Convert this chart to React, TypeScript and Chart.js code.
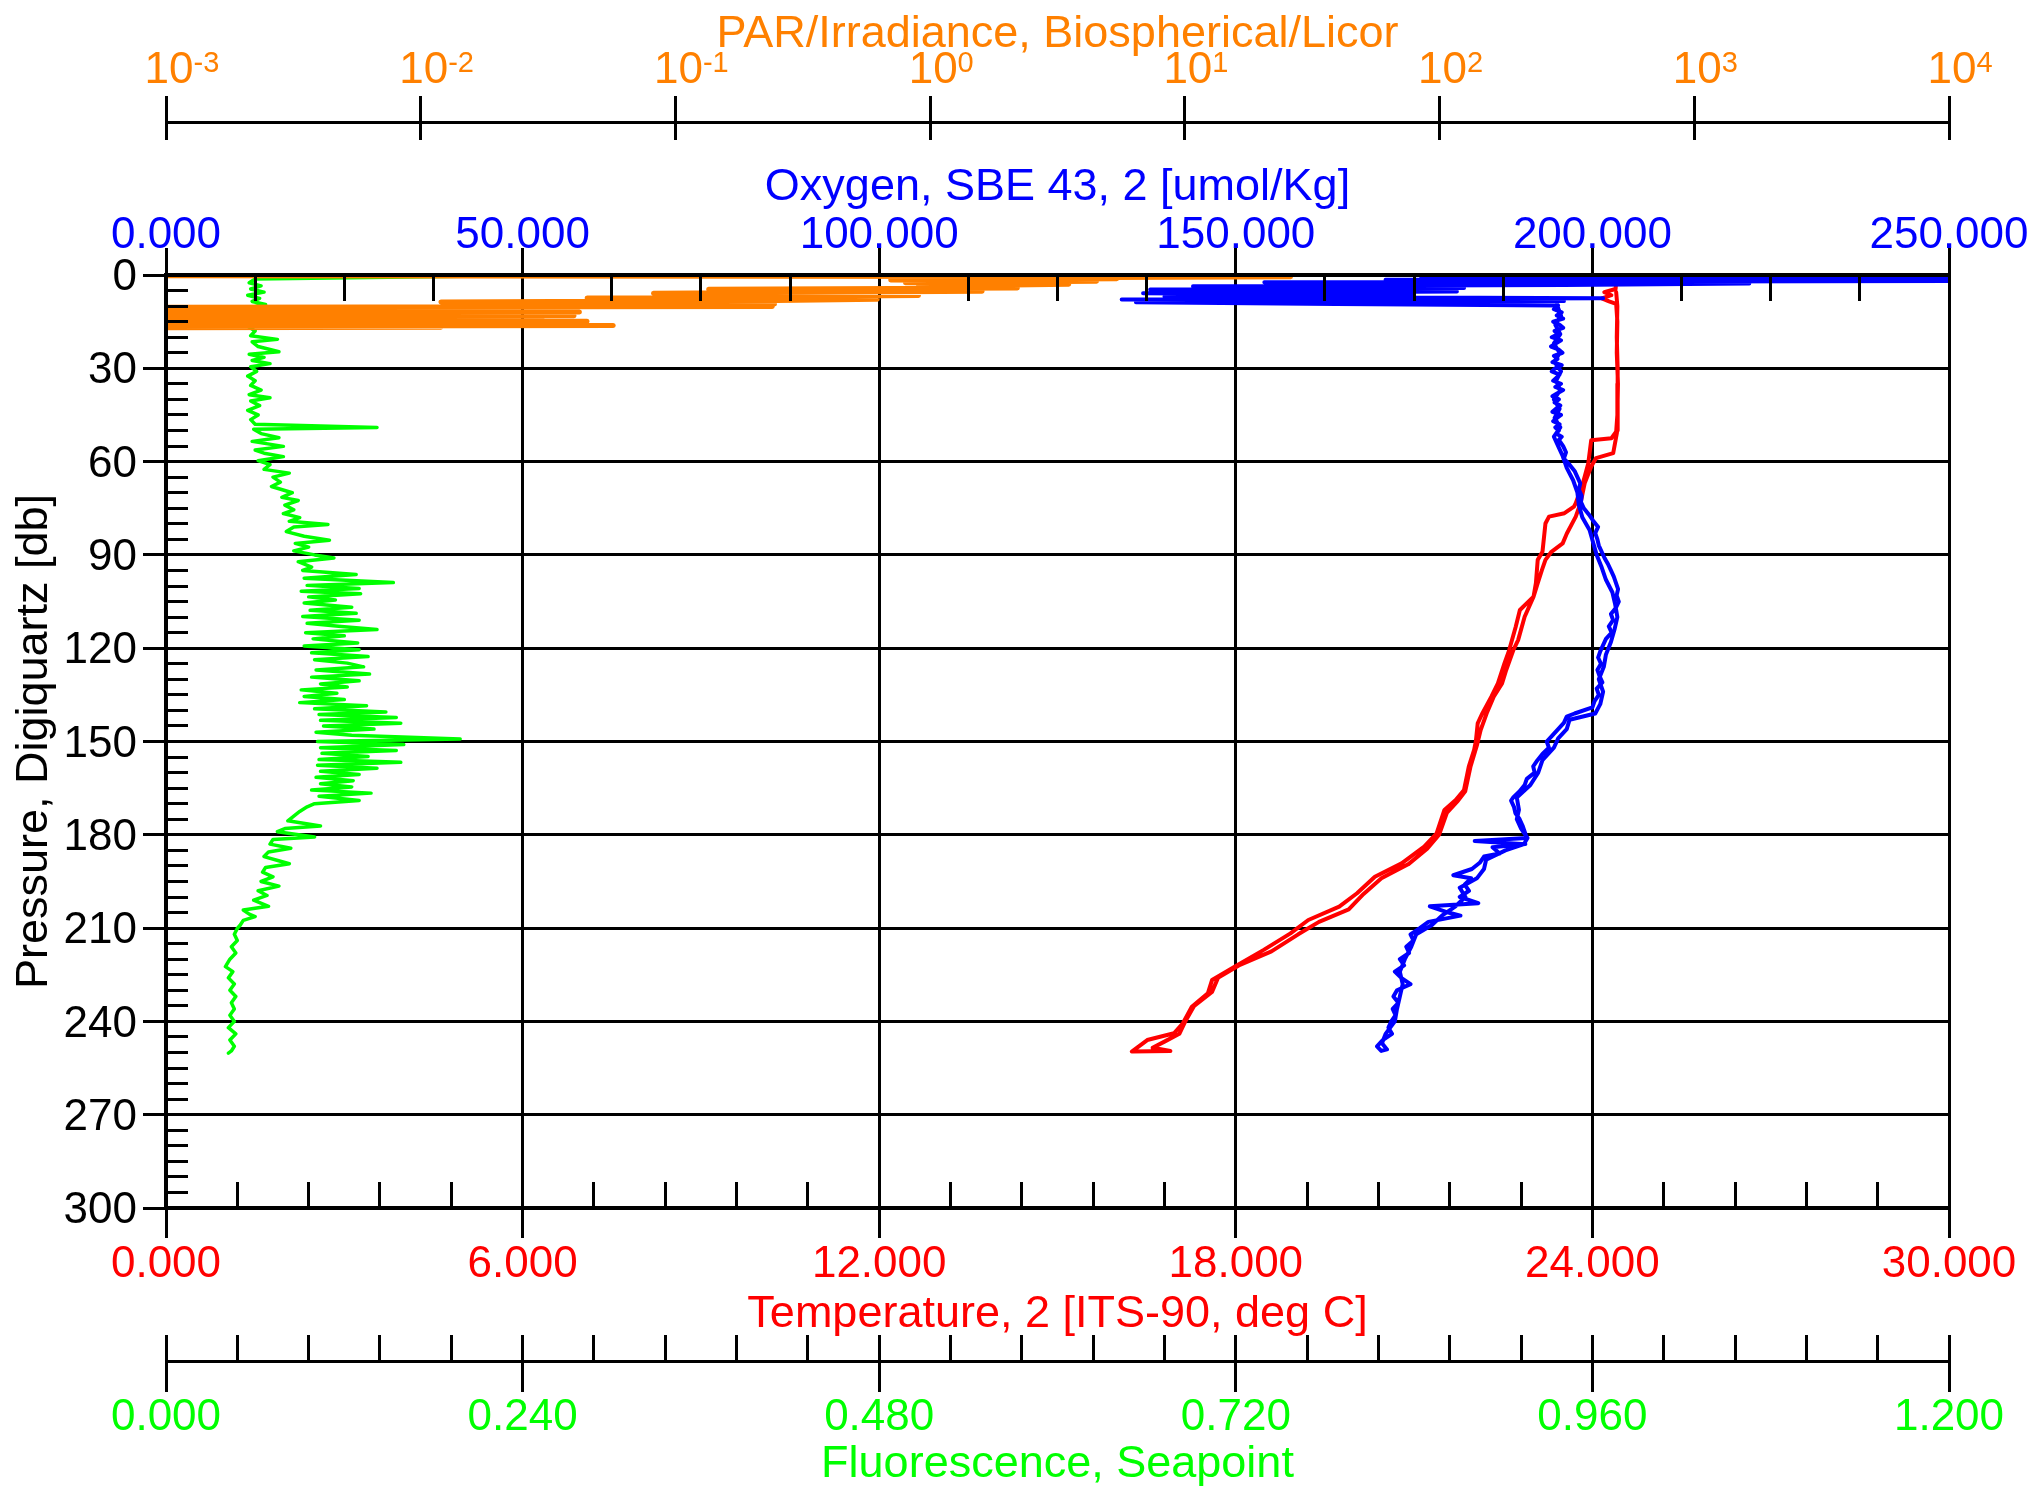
import React, { useEffect, useRef } from "react";
import { Chart, registerables } from "chart.js";

Chart.register(...registerables);

const FONT = "'Liberation Sans', Arial, Helvetica, sans-serif";

// ---- axis ticks ----
const pressureTicks = [0, 30, 60, 90, 120, 150, 180, 210, 240, 270, 300];
const oxygenTicks = [0, 50, 100, 150, 200, 250];
const temperatureTicks = [0, 6, 12, 18, 24, 30];
const fluorescenceTicks = [0, 0.24, 0.48, 0.72, 0.96, 1.2];
const parDecades = [-3, -2, -1, 0, 1, 2, 3, 4];

// ---- profiles: [pressure (db), value] ----
const parProfile: [number, number][] = [
  [0.2, 0.0005], [0.6, 26], [0.9, 3.0], [1.2, 5.4], [1.6, 0.7], [2.0, 4.5], [2.5, 0.8],
  [3.0, 3.5], [3.6, 0.9], [4.2, 2.2], [4.6, 0.135], [5.2, 1.6], [5.9, 0.082], [6.6, 0.9],
  [7.4, 0.045], [7.8, 0.62], [8.2, 0.25], [8.7, 0.012], [9.3, 0.245], [9.8, 0.06],
  [10.1, 0.24], [10.4, 0.0005], [10.7, 0.03], [11.0, 0.0005], [11.3, 0.035], [11.6, 0.0005],
  [11.9, 0.042], [12.2, 0.0005], [12.5, 0.028], [12.8, 0.0005], [13.1, 0.04], [13.4, 0.0005],
  [13.7, 0.022], [14.0, 0.0005], [14.3, 0.03], [14.6, 0.0005], [14.9, 0.045], [15.2, 0.0005],
  [15.5, 0.018], [15.8, 0.0005], [16.2, 0.057], [16.5, 0.0005], [16.8, 0.012], [17.0, 0.0005],
];

const oxygenProfile: [number, number][] = [
  [0.3, 262], [0.8, 176], [1.1, 258], [1.5, 171], [1.9, 255], [2.3, 154], [2.7, 222],
  [3.2, 196], [3.6, 144], [4.2, 182], [4.7, 138], [5.3, 181], [5.9, 137], [6.4, 175],
  [6.9, 140], [7.5, 201.5], [7.9, 134], [8.4, 196], [8.8, 136], [9.3, 164], [9.8, 195.2],
  [11, 194.6], [12, 195.7], [13, 195.0], [14, 195.9], [15, 194.5], [16, 195.4], [17, 195.9],
  [18, 194.7], [19, 195.2], [20, 194.3], [21, 195.6], [22, 194.9], [23, 194.2], [24, 195.3],
  [25, 195.8], [26, 194.6], [27, 195.1], [28, 194.4], [29, 195.7], [30, 194.8], [31, 194.3],
  [32, 195.4], [33, 195.0], [34, 194.5], [35, 195.6], [36, 194.8], [37, 195.9], [38, 195.1],
  [39, 194.4], [40, 195.3], [41, 194.7], [42, 195.5], [43, 194.9], [44, 194.4], [45, 195.6],
  [46, 195.0], [47, 194.5], [48, 195.4], [49, 194.8], [50, 195.3], [51, 194.9], [52, 195.7],
  [53, 195.3], [55, 195.9], [57, 196.3], [59, 196.0], [61, 196.8], [63, 197.5], [65, 197.9],
  [67, 198.3], [69, 198.1], [71, 198.5], [73, 198.4], [75, 198.8], [77, 199.5], [79, 200.1],
  [81, 200.8], [83, 200.4], [85, 200.7], [87, 200.9], [89, 201.3], [91, 201.7], [93, 202.2],
  [95, 202.6], [97, 203.0], [99, 203.3], [101, 203.6], [103, 203.4], [105, 203.7], [107, 203.3],
  [109, 202.6], [111, 202.9], [113, 202.3], [115, 202.7], [117, 201.9], [119, 201.5], [121, 201.1],
  [123, 200.8], [125, 201.2], [127, 200.7], [129, 201.0], [131, 201.4], [133, 200.6], [135, 200.9],
  [137, 200.3], [139, 200.0], [141, 197.5], [142, 196.4], [144, 196.0], [146, 195.2], [148, 194.4],
  [150, 193.6], [152, 193.9], [154, 193.0], [156, 192.3], [158, 191.7], [160, 191.9], [162, 190.8],
  [164, 190.5], [166, 189.8], [168, 188.9], [169, 188.6], [171, 189.0], [173, 189.2], [175, 189.8],
  [177, 190.2], [179, 190.5], [181, 190.8], [182, 183.5], [183, 190.6], [184, 186.0], [186, 187.0],
  [187, 184.8], [189, 184.2], [191, 183.1], [193, 180.5], [194, 183.0], [196, 182.1], [198, 182.7],
  [200, 181.4], [202, 184.0], [203, 177.2], [205, 179.8], [206, 181.5], [208, 177.0], [210, 175.8],
  [212, 174.5], [214, 174.9], [216, 173.9], [218, 174.3], [220, 173.0], [222, 173.6], [224, 172.3],
  [226, 173.2], [228, 174.5], [230, 172.6], [232, 172.1], [234, 172.8], [236, 172.0], [238, 172.4],
  [240, 171.8], [242, 171.4], [244, 171.9], [246, 170.6], [248, 169.8], [249.5, 170.4],
  // upcast
  [249, 171.2], [247, 170.5], [244, 171.0], [240, 172.3], [236, 172.6], [232, 173.0], [228, 173.4],
  [224, 173.0], [220, 173.7], [216, 174.6], [212, 175.3], [209, 177.5], [206, 178.9], [203, 180.8],
  [200, 182.2], [197, 181.4], [194, 183.8], [191, 184.8], [188, 185.1], [185, 187.8], [183, 190.4],
  [181, 190.9], [178, 190.0], [175, 189.4], [172, 189.7], [168, 189.4], [164, 191.3], [160, 192.4],
  [156, 193.0], [152, 194.6], [149, 195.2], [146, 196.4], [143, 196.8], [141, 200.4], [138, 201.1],
  [134, 201.5], [130, 200.9], [126, 201.6], [122, 201.9], [118, 202.6], [114, 203.1], [110, 203.5],
  [106, 203.2], [102, 202.8], [98, 201.9], [94, 201.3], [90, 200.6], [86, 200.1], [82, 199.6],
  [78, 198.6], [74, 198.1], [70, 197.9], [66, 197.3], [62, 196.4], [58, 195.8], [55, 195.2],
  [52, 194.6], [49, 195.5], [46, 194.7], [43, 195.4], [40, 194.6], [37, 195.5], [34, 194.9],
  [31, 195.6], [28, 194.7], [25, 195.4], [22, 194.6], [19, 195.5], [16, 194.8], [13, 195.6],
  [10, 195.1], [8, 195.0],
];

const temperatureProfile: [number, number][] = [
  [1.5, 26.5], [2.2, 24.4], [4.5, 24.39], [5.5, 24.2], [6.5, 24.32], [7.5, 24.16], [8.5, 24.28],
  [9.3, 24.4], [15, 24.42], [25, 24.41], [35, 24.43], [45, 24.42], [50.4, 24.4], [52.5, 24.32],
  [53.1, 23.98], [60.6, 23.93], [67, 23.84], [73.4, 23.72], [74.5, 23.69], [76.6, 23.53],
  [77.7, 23.27], [79.9, 23.21], [89, 23.16], [91.6, 23.08], [99, 23.05], [103.4, 23.01],
  [107.7, 22.78], [113.1, 22.71], [120.6, 22.6], [124.9, 22.52], [131.3, 22.41], [135.6, 22.3],
  [140.9, 22.15], [144.2, 22.07], [149.8, 22.04], [152.7, 22.01], [158.1, 21.92], [165.6, 21.84],
  [168.8, 21.7], [172, 21.51], [179.5, 21.38], [183.8, 21.17], [189.2, 20.79], [193.5, 20.34],
  [198.8, 20.04], [203.1, 19.74], [207.4, 19.22], [211.7, 18.92], [217, 18.47], [222.4, 17.98],
  [226.7, 17.6], [231, 17.53], [235.3, 17.26], [240.6, 17.11], [243.8, 16.96], [246, 16.51],
  [249.7, 16.25],
  // upcast
  [249.5, 16.9], [248.5, 16.6], [246.5, 16.8], [244, 17.05], [240, 17.15], [235, 17.3],
  [230.5, 17.6], [226, 17.7], [222, 18.05], [217.5, 18.6], [212, 19.05], [208, 19.4], [204, 19.9],
  [199, 20.15], [194, 20.45], [189.5, 20.9], [184.5, 21.22], [180, 21.42], [173, 21.55],
  [169, 21.74], [166, 21.86], [158, 21.95], [151, 22.06], [146.3, 22.12], [141, 22.22],
  [135.6, 22.34], [131.3, 22.48], [127, 22.55], [120.6, 22.67], [117.4, 22.75], [109.9, 22.86],
  [103.4, 23.01], [99.1, 23.08], [94.9, 23.15], [91.6, 23.21], [89, 23.31], [86.3, 23.5],
  [83.1, 23.57], [77.7, 23.72], [73.4, 23.8], [67, 23.87], [61.6, 23.98], [58.9, 24.06],
  [57.3, 24.35], [50, 24.42], [40, 24.43], [30, 24.42], [20, 24.41], [10, 24.42], [5.5, 24.4],
];

const fluorescenceProfile: [number, number][] = [
  [0.4, 0.2], [1.3, 0.06], [2.5, 0.056], [3.5, 0.064], [4.5, 0.057], [5.5, 0.066], [6.5, 0.055],
  [7.5, 0.063], [8.5, 0.058], [9.5, 0.067], [10.5, 0.056], [12, 0.062], [13.5, 0.057], [15, 0.061],
  [16.5, 0.055], [18, 0.06], [19.5, 0.057], [20.7, 0.075], [21.5, 0.058], [23, 0.062], [24.7, 0.076],
  [25.5, 0.056], [26.5, 0.066], [27.5, 0.058], [28.5, 0.07], [29.5, 0.057], [31, 0.061], [32.5, 0.055],
  [34, 0.06], [35.5, 0.057], [37, 0.064], [38.5, 0.056], [39.5, 0.07], [40.5, 0.057], [42, 0.063],
  [43.5, 0.055], [45, 0.062], [46.5, 0.057], [48, 0.06], [49, 0.142], [49.6, 0.059], [51, 0.064],
  [52.3, 0.076], [53.5, 0.058], [55.1, 0.079], [56.3, 0.06], [57.3, 0.066], [58.4, 0.079], [59.7, 0.062],
  [61, 0.07], [62.5, 0.066], [63.7, 0.083], [65, 0.072], [66.6, 0.077], [68, 0.071], [70, 0.085],
  [71.5, 0.078], [72.5, 0.089], [74, 0.08], [75.5, 0.086], [76.7, 0.079], [78, 0.09], [79.2, 0.083],
  [80.2, 0.109], [81, 0.086], [82.5, 0.081], [84, 0.093], [85.3, 0.11], [86.3, 0.087], [87.5, 0.096],
  [88.7, 0.086], [90, 0.1], [91, 0.113], [92.2, 0.089], [93.9, 0.098], [95, 0.092], [96.3, 0.128],
  [97.5, 0.093], [98.9, 0.153], [99.8, 0.095], [100.8, 0.13], [101.7, 0.091], [102.5, 0.131],
  [103.5, 0.096], [104.5, 0.114], [105.5, 0.093], [106.8, 0.125], [107.8, 0.097], [108.8, 0.128],
  [109.8, 0.092], [111, 0.13], [112, 0.095], [113, 0.118], [114, 0.142], [115, 0.094], [116, 0.12],
  [117, 0.099], [118.3, 0.129], [119.3, 0.093], [120.5, 0.13], [121.5, 0.098], [122.7, 0.136],
  [123.7, 0.1], [124.8, 0.122], [126, 0.133], [127, 0.101], [128.3, 0.137], [129.3, 0.098],
  [130.5, 0.13], [131.5, 0.104], [132.5, 0.122], [133.4, 0.091], [134.5, 0.115], [135.5, 0.093],
  [136.5, 0.12], [137.5, 0.09], [138.5, 0.135], [139.5, 0.1], [140.5, 0.148], [141.3, 0.103],
  [142.3, 0.155], [143.2, 0.104], [144.1, 0.158], [145, 0.106], [146, 0.14], [147, 0.101],
  [148, 0.125], [149.2, 0.198], [150, 0.102], [151, 0.16], [152, 0.104], [152.9, 0.155],
  [153.8, 0.105], [154.8, 0.136], [155.8, 0.103], [156.7, 0.158], [157.6, 0.102], [158.6, 0.142],
  [159.6, 0.104], [160.6, 0.13], [161.5, 0.101], [162.6, 0.126], [163.6, 0.104], [164.6, 0.125],
  [165.6, 0.098], [166.6, 0.138], [167.6, 0.103], [169, 0.13], [170, 0.1], [171, 0.095], [172.5, 0.09],
  [174, 0.086], [175.5, 0.082], [177.2, 0.104], [178, 0.08], [179, 0.075], [180.7, 0.1], [181.5, 0.072],
  [183, 0.07], [184.3, 0.084], [185.5, 0.069], [187, 0.066], [188.5, 0.077], [189.3, 0.083],
  [190.5, 0.067], [192, 0.065], [193.5, 0.072], [195, 0.064], [196.5, 0.076], [198, 0.062],
  [199.5, 0.068], [201, 0.059], [203, 0.069], [204.2, 0.052], [205.5, 0.056], [206.3, 0.06],
  [207.5, 0.052], [209, 0.05], [210.1, 0.048], [212, 0.046], [214, 0.048], [216, 0.044], [218, 0.047],
  [220, 0.043], [222.4, 0.04], [224, 0.045], [226, 0.042], [228, 0.046], [230, 0.043], [232, 0.047],
  [234, 0.044], [236, 0.046], [238, 0.043], [240, 0.046], [242, 0.042], [244, 0.047], [246, 0.043],
  [248, 0.046], [249.5, 0.044], [250.2, 0.042],
];

const toXY = (rows: [number, number][]) => rows.map(([p, v]) => ({ x: v, y: p }));

const align = (v: number, w: number) => Math.round(v - w / 2) + w / 2;

const axisDecor = {
  id: "axisDecor",
  afterDatasetsDraw(chart: any) {
    const { ctx, scales, chartArea } = chart;
    const oxy = scales.oxy, par = scales.par, temp = scales.temp, fl = scales.fl, y = scales.y;
    ctx.save();
    ctx.strokeStyle = "#000";
    ctx.lineCap = "butt";
    const v = (x: number, y1: number, y2: number, w = 3) => {
      ctx.lineWidth = w;
      const ax = align(x, w);
      ctx.beginPath(); ctx.moveTo(ax, y1); ctx.lineTo(ax, y2); ctx.stroke();
    };
    const h = (yy: number, x1: number, x2: number, w = 3) => {
      ctx.lineWidth = w;
      const ay = align(yy, w);
      ctx.beginPath(); ctx.moveTo(x1, ay); ctx.lineTo(x2, ay); ctx.stroke();
    };
    const minors = (ticks: number[], n: number, fn: (val: number) => void) => {
      for (let i = 0; i < ticks.length - 1; i++) {
        const a = ticks[i], b = ticks[i + 1];
        for (let k = 1; k < n; k++) fn(a + ((b - a) * k) / n);
      }
    };
    // frame redrawn above the data
    h(chartArea.top, chartArea.left - 2, chartArea.right + 2, 4);
    h(chartArea.bottom, chartArea.left - 2, chartArea.right + 2, 4);
    v(chartArea.left, chartArea.top - 2, chartArea.bottom + 2, 4);
    v(oxy.getPixelForValue(oxygenTicks[oxygenTicks.length - 1]), chartArea.top, chartArea.bottom, 3);
    // oxygen (top of plot)
    const oB = oxy.bottom;
    oxygenTicks.forEach((t) => v(oxy.getPixelForValue(t), oB - 27, oB));
    minors(oxygenTicks, 4, (t) => v(oxy.getPixelForValue(t), oB, oB + 26));
    // temperature (bottom of plot)
    const tT = temp.top;
    temperatureTicks.forEach((t) => v(temp.getPixelForValue(t), tT, tT + 30));
    minors(temperatureTicks, 5, (t) => v(temp.getPixelForValue(t), tT - 26, tT));
    // fluorescence
    const fT = fl.top;
    fluorescenceTicks.forEach((t) => v(fl.getPixelForValue(t), fT - 26, fT + 31));
    minors(fluorescenceTicks, 5, (t) => v(fl.getPixelForValue(t), fT - 26, fT));
    // PAR
    const pB = par.bottom;
    parDecades.forEach((d) => v(par.getPixelForValue(Math.pow(10, d)), pB - 26, pB + 18));
    // pressure
    const yR = y.right;
    pressureTicks.forEach((t) => h(y.getPixelForValue(t), yR - 23, yR));
    minors(pressureTicks, 6, (t) => h(y.getPixelForValue(t), yR, yR + 22));
    // PAR labels with superscript exponents
    ctx.fillStyle = "#FF8000";
    ctx.textBaseline = "alphabetic";
    parDecades.forEach((d) => {
      const x = par.getPixelForValue(Math.pow(10, d)) + 3;
      ctx.font = `44px ${FONT}`;
      ctx.textAlign = "center";
      ctx.fillText("10", x, pB - 39);
      const w = ctx.measureText("10").width;
      ctx.font = `29px ${FONT}`;
      ctx.textAlign = "left";
      ctx.fillText(String(d), x + w / 2, pB - 50);
    });
    ctx.restore();
  },
};

const font44 = { size: 44, family: FONT, lineHeight: 1 };
const font45 = { size: 45, family: FONT, lineHeight: 1 };
const noSidePad = (s: any) => { s.paddingLeft = 0; s.paddingRight = 0; };

export default function App() {
  const ref = useRef<HTMLCanvasElement>(null);
  useEffect(() => {
    if (!ref.current) return;
    const lineStyle = { pointRadius: 0, showLine: true, fill: false, tension: 0, clip: 0, borderJoinStyle: "round" as const, borderCapStyle: "round" as const };
    const chart = new Chart(ref.current, {
      type: "scatter",
      data: {
        datasets: [
          { label: "Oxygen", data: toXY(oxygenProfile), xAxisID: "oxy", yAxisID: "y", borderColor: "#0000FF", backgroundColor: "#0000FF", borderWidth: 4, ...lineStyle },
          { label: "Temperature", data: toXY(temperatureProfile), xAxisID: "temp", yAxisID: "y", borderColor: "#FF0000", backgroundColor: "#FF0000", borderWidth: 4, ...lineStyle },
          { label: "PAR", data: toXY(parProfile), xAxisID: "par", yAxisID: "y", borderColor: "#FF8000", backgroundColor: "#FF8000", borderWidth: 5, ...lineStyle },
          { label: "Fluorescence", data: toXY(fluorescenceProfile), xAxisID: "fl", yAxisID: "y", borderColor: "#00FF00", backgroundColor: "#00FF00", borderWidth: 3.5, ...lineStyle },
        ],
      },
      options: {
        animation: false,
        responsive: false,
        maintainAspectRatio: false,
        devicePixelRatio: 1,
        layout: { padding: { left: 0, right: 87, top: 0, bottom: 0 } },
        plugins: { legend: { display: false }, tooltip: { enabled: false } },
        scales: {
          y: {
            type: "linear", axis: "y", position: "left", reverse: true, min: 0, max: 300,
            afterBuildTicks: (s: any) => { s.ticks = pressureTicks.map((value) => ({ value })); },
            afterFit: (s: any) => { s.width = 166; s.paddingTop = 0; s.paddingBottom = 0; },
            grid: { display: true, color: "#000", lineWidth: 3, drawTicks: false },
            border: { display: true, color: "#000", width: 4 },
            ticks: { color: "#000", font: font44, padding: 29, labelOffset: 3, callback: (val: any) => String(val), autoSkip: false },
            title: { display: true, text: "Pressure, Digiquartz [db]", color: "#000", font: font45, padding: { top: 12.5, bottom: 0 } },
          },
          oxy: {
            type: "linear", axis: "x", position: "top", weight: 0, min: 0, max: 250,
            afterBuildTicks: (s: any) => { s.ticks = oxygenTicks.map((value) => ({ value })); },
            afterFit: (s: any) => { s.height = 153; noSidePad(s); },
            grid: { display: true, color: "#000", lineWidth: 3, drawTicks: false },
            border: { display: true, color: "#000", width: 4 },
            ticks: { color: "#0000FF", font: font44, padding: 17, maxRotation: 0, autoSkip: false, callback: (val: any) => Number(val).toFixed(3) },
            title: { display: true, text: "Oxygen, SBE 43, 2 [umol/Kg]", color: "#0000FF", font: font45, padding: { top: 43.5, bottom: 0 } },
          },
          par: {
            type: "logarithmic", axis: "x", position: "top", weight: 1, min: 0.001, max: 10000,
            afterFit: (s: any) => { s.height = 122; noSidePad(s); },
            grid: { display: false, drawTicks: false },
            border: { display: true, color: "#000", width: 3 },
            ticks: { display: false },
            title: { display: true, text: "PAR/Irradiance, Biospherical/Licor", color: "#FF8000", font: font45, padding: { top: 12.5, bottom: 0 } },
          },
          temp: {
            type: "linear", axis: "x", position: "bottom", weight: 0, min: 0, max: 30,
            afterBuildTicks: (s: any) => { s.ticks = temperatureTicks.map((value) => ({ value })); },
            afterFit: (s: any) => { s.height = 153; noSidePad(s); },
            grid: { display: false, drawTicks: false },
            border: { display: true, color: "#000", width: 4 },
            ticks: { color: "#FF0000", font: font44, padding: 34.5, maxRotation: 0, autoSkip: false, callback: (val: any) => Number(val).toFixed(3) },
            title: { display: true, text: "Temperature, 2 [ITS-90, deg C]", color: "#FF0000", font: font45, padding: { top: 0, bottom: 24 } },
          },
          fl: {
            type: "linear", axis: "x", position: "bottom", weight: 1, min: 0, max: 1.2,
            afterBuildTicks: (s: any) => { s.ticks = fluorescenceTicks.map((value) => ({ value })); },
            afterFit: (s: any) => { s.height = 126; noSidePad(s); },
            grid: { display: false, drawTicks: false },
            border: { display: true, color: "#000", width: 3 },
            ticks: { color: "#00FF00", font: font44, padding: 35, maxRotation: 0, autoSkip: false, callback: (val: any) => Number(val).toFixed(3) },
            title: { display: true, text: "Fluorescence, Seapoint", color: "#00FF00", font: font45, padding: { top: 0, bottom: -0.5 } },
          },
        },
      } as any,
      plugins: [axisDecor],
    });
    return () => chart.destroy();
  }, []);
  return (
    <div style={{ position: "absolute", left: 0, top: 0, width: 2036, height: 1487, background: "#fff", overflow: "hidden" }}>
      <canvas ref={ref} width={2036} height={1487} style={{ display: "block", width: 2036, height: 1487 }} />
    </div>
  );
}
